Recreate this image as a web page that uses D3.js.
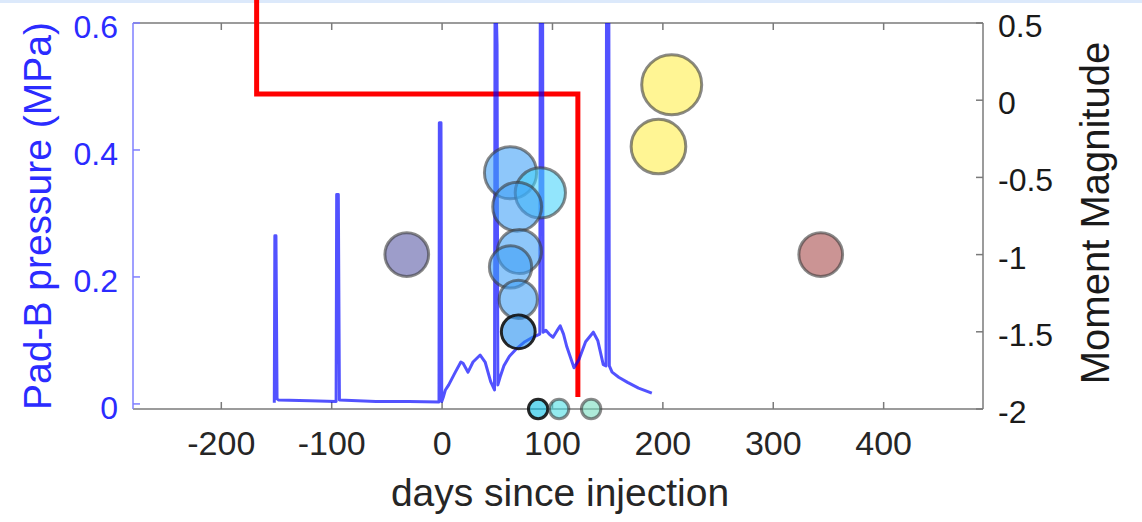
<!DOCTYPE html>
<html>
<head>
<meta charset="utf-8">
<script src="https://cdn.jsdelivr.net/npm/d3@7"></script>
<style>
  body { margin: 0; background: #fff; }
  svg { display: block; font-family: "Liberation Sans", Arial, sans-serif; }
</style>
</head>
<body>
<svg width="1142" height="522"></svg>
<script>
// pad-B pressure record (days since injection, MPa)
var pressureDays = [-152, -151.5, -150.5, -149.5, -148, -120, -96, -95.5, -94, -93, -60, -30, -2.8, -2.5, -1, -0.3,
  1, 3, 6, 12, 17, 19, 23.5, 28, 34.5, 39, 44, 47.5, 48, 49.8, 50.5, 52.5, 56, 61, 68, 75, 82, 88.5, 89,
  91, 91.5, 94, 97, 100.5, 104, 107, 110, 113, 119.5, 124, 130, 137, 141, 146, 148.5, 149, 151,
  151.5, 154, 160, 168, 178, 190];
var pressureMPa = [0.002, 0.265, 0.265, 0.008, 0.006, 0.005, 0.004, 0.33, 0.33, 0.006, 0.004, 0.004, 0.003, 0.443, 0.443, 0.004,
  0.01, 0.022, 0.03, 0.05, 0.066, 0.064, 0.05, 0.066, 0.077, 0.066, 0.035, 0.022, 0.7, 0.565, 0.03, 0.042, 0.06, 0.075, 0.088, 0.098, 0.105, 0.11, 0.7,
  0.7, 0.113, 0.116, 0.11, 0.105, 0.115, 0.123, 0.11, 0.09, 0.057, 0.07, 0.098, 0.113, 0.1, 0.062, 0.06, 0.7, 0.7,
  0.06, 0.05, 0.042, 0.034, 0.025, 0.017];

// seismic events (days since injection, moment magnitude, group)
var eventDays = [-32, 208, 196, 62, 89, 68, 70, 62, 69, 69, 87, 106, 135, 343];
var eventMagnitude = [-1.0, 0.1, -0.3, -0.47, -0.6, -0.69, -0.98, -1.08, -1.29, -1.5, -2.0, -2.0, -2.0, -1.0];
var eventGroup = ["pre", "late", "late", "blue", "cyan", "blue", "blue", "blue", "blue", "deep", "deepcyan", "cyan2", "mint", "post"];

// red step line (days, MPa)
var stepDays = [-168, -168, 123, 123];
var stepMPa = [0.64, 0.488, 0.488, 0.011];

var xTicks = [-200, -100, 0, 100, 200, 300, 400];
var leftTicks = [0, 0.2, 0.4, 0.6];
var rightTicks = [-2, -1.5, -1, -0.5, 0, 0.5];
var rightTickLabels = ["-2", "-1.5", "-1", "-0.5", "0", "0.5"];

function main() {
  var svg = d3.select("svg");
  var left = 133, right = 983, plotTop = 23, bottom = 409;

  svg.append("rect").attr("width", 1142).attr("height", 3).attr("fill", "#dce9fb");

  var x = d3.scaleLinear().domain([-280, 490]).range([left, right]);
  var yP = d3.scaleLinear().domain([-0.008, 0.6]).range([bottom, plotTop]);
  var yM = d3.scaleLinear().domain([-2, 0.5]).range([bottom, plotTop]);
  // bubble radius grows with magnitude (sqrt of magnitude above a floor)
  var magFloor = -2.244;
  var r = d3.scaleSqrt().domain([0, 0.1 - magFloor]).range([0, 30]);

  var fills = d3.scaleOrdinal()
    .domain(["pre", "late", "blue", "cyan", "deep", "deepcyan", "cyan2", "mint", "post"])
    .range(["#5757a3", "#ffed46", "#3c9ef7", "#43d2fa", "#1e8cf0", "#00bee6", "#46dce4", "#73dcbe", "#a54646"]);

  svg.append("defs").append("clipPath").attr("id", "plot")
    .append("rect").attr("x", left).attr("y", plotTop).attr("width", right - left).attr("height", bottom - plotTop);

  // box
  var axisGray = "#7a7a7a";
  svg.append("line").attr("x1", left).attr("x2", right).attr("y1", plotTop).attr("y2", plotTop)
    .attr("stroke", axisGray).attr("stroke-width", 1.5);
  svg.append("line").attr("x1", left).attr("x2", right).attr("y1", bottom).attr("y2", bottom)
    .attr("stroke", axisGray).attr("stroke-width", 1.5);
  svg.append("line").attr("x1", right).attr("x2", right).attr("y1", plotTop).attr("y2", bottom)
    .attr("stroke", axisGray).attr("stroke-width", 1.5);
  svg.append("line").attr("x1", left).attr("x2", left).attr("y1", plotTop).attr("y2", bottom)
    .attr("stroke", "#7f7fff").attr("stroke-width", 1.5);

  // x ticks (inside, top and bottom)
  xTicks.forEach(function (t) {
    svg.append("line").attr("x1", x(t)).attr("x2", x(t)).attr("y1", bottom).attr("y2", bottom - 7)
      .attr("stroke", axisGray).attr("stroke-width", 1.5);
    svg.append("line").attr("x1", x(t)).attr("x2", x(t)).attr("y1", plotTop).attr("y2", plotTop + 7)
      .attr("stroke", axisGray).attr("stroke-width", 1.5);
    svg.append("text").attr("x", x(t)).attr("y", bottom + 46)
      .attr("text-anchor", "middle").attr("font-size", 34).attr("fill", "#262626")
      .text(t);
  });

  // left ticks
  leftTicks.forEach(function (t) {
    svg.append("line").attr("x1", left).attr("x2", left + 7).attr("y1", yP(t)).attr("y2", yP(t))
      .attr("stroke", "#7f7fff").attr("stroke-width", 1.5);
    svg.append("text").attr("x", left - 15).attr("y", yP(t) + 15)
      .attr("text-anchor", "end").attr("font-size", 32).attr("fill", "#2b2bff")
      .text(t);
  });

  // right ticks
  rightTicks.forEach(function (t, i) {
    svg.append("line").attr("x1", right).attr("x2", right - 7).attr("y1", yM(t)).attr("y2", yM(t))
      .attr("stroke", axisGray).attr("stroke-width", 1.5);
    svg.append("text").attr("x", right + 15).attr("y", yM(t) + 14)
      .attr("text-anchor", "start").attr("font-size", 32).attr("fill", "#1a1a1a")
      .text(rightTickLabels[i]);
  });

  // axis titles
  svg.append("text").attr("transform", "translate(51," + (plotTop + bottom) / 2 + ") rotate(-90)")
    .attr("text-anchor", "middle").attr("font-size", 39).attr("fill", "#2b2bff")
    .text("Pad-B pressure (MPa)");
  svg.append("text").attr("transform", "translate(1109,213) rotate(-90)")
    .attr("text-anchor", "middle").attr("font-size", 40).attr("fill", "#1a1a1a")
    .text("Moment Magnitude");
  svg.append("text").attr("x", 560).attr("y", 506)
    .attr("text-anchor", "middle").attr("font-size", 39).attr("fill", "#262626")
    .text("days since injection");

  // red step line
  var stepLine = d3.line()
    .x(function (d) { return x(d[0]); })
    .y(function (d) { return yP(d[1]); });
  svg.append("path")
    .datum(d3.zip(stepDays, stepMPa))
    .attr("d", stepLine)
    .attr("fill", "none").attr("stroke", "#ff0000").attr("stroke-width", 5);

  // pressure line
  var pLine = d3.line()
    .x(function (d) { return x(d[0]); })
    .y(function (d) { return yP(d[1]); });
  svg.append("path")
    .datum(d3.zip(pressureDays, pressureMPa))
    .attr("clip-path", "url(#plot)")
    .attr("d", pLine)
    .attr("fill", "none").attr("stroke", "#0000ff").attr("stroke-opacity", 0.68)
    .attr("stroke-width", 3).attr("stroke-linejoin", "round");

  // events
  var events = d3.range(eventDays.length).map(function (i) {
    return { day: eventDays[i], mag: eventMagnitude[i], group: eventGroup[i] };
  });
  var dark = function (d) { return d.group === "deep" || d.group === "deepcyan"; };
  svg.append("g").selectAll("circle")
    .data(events)
    .enter()
    .append("circle")
    .attr("cx", function (d) { return x(d.day); })
    .attr("cy", function (d) { return yM(d.mag); })
    .attr("r", function (d) { return r(d.mag - magFloor); })
    .attr("fill", function (d) { return fills(d.group); })
    .attr("fill-opacity", 0.58)
    .attr("stroke", function (d) { return dark(d) ? "#111" : "#3a3a3a"; })
    .attr("stroke-opacity", function (d) { return dark(d) ? 0.9 : 0.6; })
    .attr("stroke-width", 3);
}
main();
</script>
</body>
</html>
